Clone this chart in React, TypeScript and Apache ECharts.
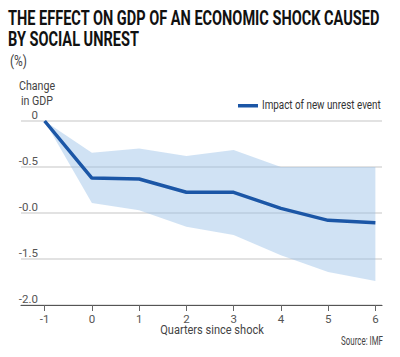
import React, { useEffect, useRef } from "react";
import * as echarts from "echarts";

const quarters = [-1, 0, 1, 2, 3, 4, 5, 6];
const impact = [0, -0.62, -0.63, -0.775, -0.775, -0.95, -1.08, -1.105];
const upperBand = [0, -0.345, -0.3, -0.38, -0.315, -0.5, -0.5, -0.5];
const lowerBand = [0, -0.89, -0.97, -1.15, -1.24, -1.46, -1.64, -1.74];
const yTickValues = [0, -0.5, -1, -1.5, -2];
const yTickLabels = ["0", "-0.5", "-0.0", "-1.5", "-2.0"];
const titleLines = ["THE EFFECT ON GDP OF AN ECONOMIC SHOCK CAUSED", "BY SOCIAL UNREST"];
const legendLabel = "Impact of new unrest event";

const FONT = "Roboto, sans-serif";

function measure(text: string, font: string): number {
  const c = document.createElement("canvas");
  const ctx = c.getContext("2d")!;
  ctx.font = font;
  return ctx.measureText(text).width;
}

export default function App() {
  const ref = useRef<HTMLDivElement>(null);
  useEffect(() => {
    if (!ref.current) return;
    const chart = echarts.init(ref.current, null, { renderer: "svg" });
    const titleFont = `bold 21px ${FONT}`;
    const sxTitle = 372 / measure(titleLines[0], titleFont);
    const legendFont = `13.5px ${FONT}`;
    const sxLegend = 119 / measure(legendLabel, legendFont);
    const axisNameFont = `13px ${FONT}`;
    const smallFont = `12px ${FONT}`;
    const sxSource = 42 / measure("Source: IMF", smallFont);

    chart.setOption({
      animation: false,
      backgroundColor: "#fff",
      grid: { left: 21, right: 18, top: 121, bottom: 52, containLabel: false },
      xAxis: {
        type: "value",
        min: -1.5,
        max: 6.14,
        z: 4,
        splitLine: { show: false },
        axisLine: { show: true, onZero: false, lineStyle: { color: "#555", width: 1.2 } },
        axisTick: { show: true, customValues: quarters, length: 6, lineStyle: { color: "#666" } },
        axisLabel: {
          customValues: quarters,
          margin: 8,
          fontFamily: FONT,
          fontSize: 11.5,
          color: "#555",
        },
      },
      yAxis: {
        type: "value",
        min: -2,
        max: 0,
        interval: 0.5,
        axisLine: { show: false, onZero: false },
        axisTick: { show: false },
        splitLine: {
          show: true,
          lineStyle: { color: "#d9d9d9", width: 1.5 },
        },
        axisLabel: {
          margin: -17,
          align: "right",
          verticalAlign: "bottom",
          fontFamily: FONT,
          fontSize: 11.5,
          color: "#555",
          formatter: (v: number) => {
            const i = yTickValues.findIndex((t) => Math.abs(t - v) < 1e-6);
            return i >= 0 ? yTickLabels[i] : "";
          },
        },
      },
      series: [
        {
          name: "band",
          type: "custom",
          silent: true,
          data: quarters.map((q, i) => [q, upperBand[i], lowerBand[i]]),
          renderItem: (params: any, api: any) => {
            if (params.dataIndex !== 0) return null;
            const top = quarters.map((q, i) => api.coord([q, upperBand[i]]));
            const bottom = quarters.map((q, i) => api.coord([q, lowerBand[i]])).reverse();
            return {
              type: "polygon",
              shape: { points: top.concat(bottom) },
              style: { fill: "rgba(150,190,230,0.45)" },
            };
          },
          z: 2,
        },
        {
          name: legendLabel,
          type: "line",
          data: quarters.map((q, i) => [q, impact[i]]),
          lineStyle: { color: "#1b56a6", width: 3.5 },
          itemStyle: { color: "#1b56a6" },
          symbol: "none",
          z: 5,
        },
      ],
      graphic: [
        {
          type: "text",
          left: 8,
          top: 7,
          scaleX: sxTitle,
          style: { text: titleLines[0], font: titleFont, fill: "#111" },
        },
        {
          type: "text",
          left: 8,
          top: 28,
          scaleX: sxTitle,
          style: { text: titleLines[1], font: titleFont, fill: "#111" },
        },
        {
          type: "text",
          left: 10,
          top: 54,
          scaleX: 0.85,
          style: { text: "(%)", font: `14px ${FONT}`, fill: "#444" },
        },
        {
          type: "text",
          x: 37,
          y: 78,
          scaleX: 0.82,
          style: {
            text: "Change\nin GDP",
            font: axisNameFont,
            fill: "#444",
            align: "center",
            lineHeight: 15,
          },
        },
        {
          type: "rect",
          shape: { x: 238, y: 104, width: 20, height: 3.5 },
          style: { fill: "#1b56a6" },
        },
        {
          type: "text",
          x: 262,
          y: 97,
          scaleX: sxLegend,
          style: { text: legendLabel, font: legendFont, fill: "#333" },
        },
        {
          type: "text",
          x: 212,
          y: 323,
          scaleX: 0.85,
          style: { text: "Quarters since shock", font: axisNameFont, fill: "#444", align: "center" },
        },
        {
          type: "text",
          x: 383,
          y: 335,
          scaleX: sxSource,
          style: { text: "Source: IMF", font: smallFont, fill: "#444", align: "right" },
        },
      ],
    });
    return () => chart.dispose();
  }, []);
  return <div ref={ref} style={{ width: 400, height: 357, position: "absolute", left: 0, top: 0 }} />;
}
